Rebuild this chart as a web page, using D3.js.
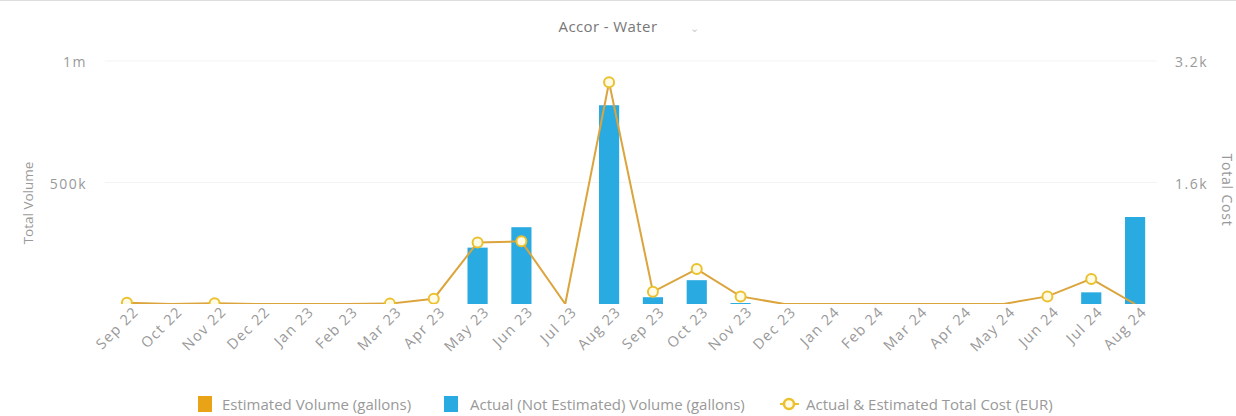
<!DOCTYPE html>
<html>
<head>
<meta charset="utf-8">
<script src="https://cdn.jsdelivr.net/npm/d3@7"></script>
<style>
  body { margin: 0; background: #fff; }
  text { font-family: "Open Sans", sans-serif; fill: #999; }
</style>
</head>
<body>
<div id="chart"></div>
<script>
var months = ["Sep 22","Oct 22","Nov 22","Dec 22","Jan 23","Feb 23","Mar 23","Apr 23","May 23","Jun 23","Jul 23","Aug 23",
              "Sep 23","Oct 23","Nov 23","Dec 23","Jan 24","Feb 24","Mar 24","Apr 24","May 24","Jun 24","Jul 24","Aug 24"];
var estimatedVolume = [0,0,0,0,0,0,0,0,0,0,0,0,0,0,0,0,0,0,0,0,0,0,0,0];
var actualVolume = [0,0,0,0,0,0,0,0,232000,316000,0,818000,28000,98000,4000,0,0,0,0,0,0,0,48000,358000];
var totalCost = [15,0,10,0,0,0,5,70,810,825,0,2920,160,460,100,0,0,0,0,0,0,100,330,0];
var volumeTicks = [500000, 1000000];
var costTicks = [1600, 3200];

var width = 1236, height = 416;
var plotLeft = 105, plotRight = 1157, plotTop = 61, plotBottom = 304;

var svg = d3.select("#chart").append("svg")
  .attr("width", width)
  .attr("height", height);

svg.append("line")
  .attr("x1", 0).attr("x2", width).attr("y1", 0.5).attr("y2", 0.5)
  .attr("stroke", "#ddd");

var x = d3.scaleBand().domain(months).range([plotLeft, plotRight])
  .paddingInner(0.54).paddingOuter(0.27);
var yVol = d3.scaleLinear().domain([0, 1000000]).range([plotBottom, plotTop]);
var yCost = d3.scaleLinear().domain([0, 3200]).range([plotBottom, plotTop]);
var cx = function(i) { return x(months[i]) + x.bandwidth() / 2; };

// title
svg.append("text")
  .attr("x", 608).attr("y", 32)
  .attr("text-anchor", "middle")
  .style("font-size", "15px").style("fill", "#777").style("letter-spacing", "0.4px")
  .text("Accor - Water");
svg.append("text")
  .attr("x", 690).attr("y", 32)
  .style("font-size", "11px").style("fill", "#ccc")
  .text("\u2304");

// grid
svg.append("g").selectAll("line")
  .data(volumeTicks).enter().append("line")
  .attr("x1", plotLeft).attr("x2", plotRight)
  .attr("y1", d => yVol(d)).attr("y2", d => yVol(d))
  .attr("stroke", "#f3f3f3");

// axes
var leftAxis = svg.append("g")
  .attr("transform", "translate(87,0)")
  .call(d3.axisLeft(yVol).tickValues(volumeTicks).tickSize(0).tickPadding(0)
    .tickFormat(d => d >= 1000000 ? (d / 1000000) + "m" : (d / 1000) + "k"));
leftAxis.select(".domain").remove();
leftAxis.selectAll("text").style("font-size", "14px").style("fill", "#999")
  .style("letter-spacing", "1.5px").attr("dy", "0.4em");

var rightAxis = svg.append("g")
  .attr("transform", "translate(1175,0)")
  .call(d3.axisRight(yCost).tickValues(costTicks).tickSize(0).tickPadding(0)
    .tickFormat(d => (d / 1000) + "k"));
rightAxis.select(".domain").remove();
rightAxis.selectAll("text").style("font-size", "14px").style("fill", "#999")
  .style("letter-spacing", "1.5px").attr("dy", "0.4em");

svg.append("text")
  .attr("transform", "translate(33,203) rotate(-90)")
  .attr("text-anchor", "middle")
  .style("font-size", "13.5px")
  .text("Total Volume");
svg.append("text")
  .attr("transform", "translate(1222,190) rotate(90)")
  .attr("text-anchor", "middle")
  .style("font-size", "14px").style("letter-spacing", "0.8px")
  .text("Total Cost");

// plot clip
svg.append("clipPath").attr("id", "plot")
  .append("rect").attr("x", plotLeft - 10).attr("y", 0)
  .attr("width", plotRight - plotLeft + 20).attr("height", plotBottom);

var plot = svg.append("g").attr("clip-path", "url(#plot)");

plot.selectAll(".est")
  .data(estimatedVolume).enter().append("rect")
  .attr("x", (d, i) => x(months[i]))
  .attr("width", x.bandwidth())
  .attr("y", d => yVol(d))
  .attr("height", d => plotBottom - yVol(d))
  .attr("fill", "#E8A317");

plot.selectAll(".act")
  .data(actualVolume).enter().append("rect")
  .attr("x", (d, i) => x(months[i]))
  .attr("width", x.bandwidth())
  .attr("y", (d, i) => yVol(d + estimatedVolume[i]))
  .attr("height", d => plotBottom - yVol(d))
  .attr("fill", "#29ABE2");

var line = d3.line()
  .x((d, i) => cx(i))
  .y(d => yCost(d));

plot.append("path")
  .datum(totalCost)
  .attr("d", line)
  .attr("fill", "none")
  .attr("stroke", "#DBA43C")
  .attr("stroke-width", 2);

plot.selectAll(".pt")
  .data(totalCost.map((v, i) => ({ v: v, i: i })).filter(d => d.v > 0))
  .enter().append("circle")
  .attr("cx", d => cx(d.i))
  .attr("cy", d => yCost(d.v))
  .attr("r", 5)
  .attr("fill", "#fffbe6")
  .attr("stroke", "#EBC12E")
  .attr("stroke-width", 2);

// x labels
svg.append("g").selectAll("text")
  .data(months).enter().append("text")
  .attr("transform", (d, i) => "translate(" + (cx(i) + 9) + ",309) rotate(-45)")
  .attr("text-anchor", "end")
  .attr("dy", "0.35em")
  .style("font-size", "14.5px").style("letter-spacing", "1.3px")
  .text(d => d);

// legend
var lg = svg.append("g");
lg.append("rect").attr("x", 198).attr("y", 396).attr("width", 14).attr("height", 16).attr("fill", "#E8A317");
lg.append("text").attr("x", 222).attr("y", 410).style("font-size", "15px").text("Estimated Volume (gallons)");
lg.append("rect").attr("x", 444).attr("y", 396).attr("width", 14).attr("height", 16).attr("fill", "#29ABE2");
lg.append("text").attr("x", 470).attr("y", 410).style("font-size", "15px").text("Actual (Not Estimated) Volume (gallons)");
lg.append("line").attr("x1", 780).attr("x2", 799).attr("y1", 404).attr("y2", 404).attr("stroke", "#EBC12E").attr("stroke-width", 2);
lg.append("circle").attr("cx", 789).attr("cy", 404).attr("r", 5).attr("fill", "#fffbe6").attr("stroke", "#EBC12E").attr("stroke-width", 2.5);
lg.append("text").attr("x", 806).attr("y", 410).style("font-size", "15px").text("Actual & Estimated Total Cost (EUR)");
</script>
</body>
</html>
